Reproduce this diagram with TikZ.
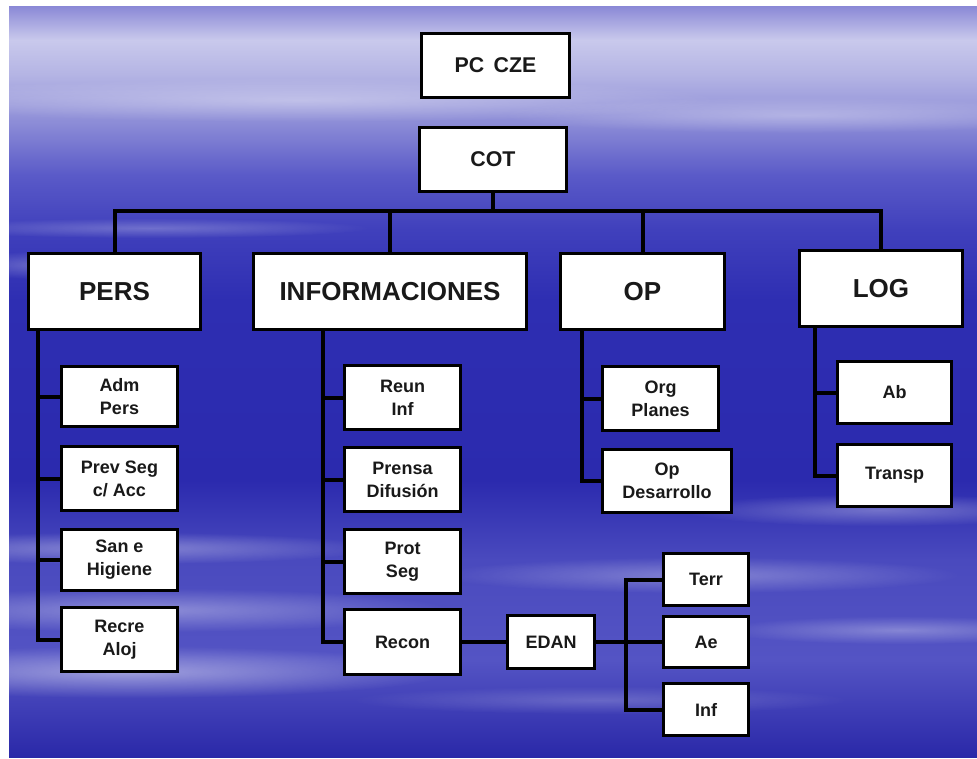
\documentclass[tikz,border=0pt]{standalone}
\usepackage{fontspec}
\setmainfont{Liberation Sans}
\usetikzlibrary{fadings}
\tikzfading[name=softell, inner color=transparent!0, outer color=transparent!100]
\definecolor{c0}{HTML}{8A88D6}
\definecolor{c1}{HTML}{C9C9EC}
\definecolor{c2}{HTML}{B4B4E4}
\definecolor{c3}{HTML}{8A8AD6}
\definecolor{c4}{HTML}{5A5AC8}
\definecolor{c5}{HTML}{4040BC}
\definecolor{c6}{HTML}{2E2EB2}
\definecolor{c7}{HTML}{2B2AAE}
\definecolor{c8}{HTML}{4A4ABE}
\definecolor{c9}{HTML}{5454C4}
\definecolor{c10}{HTML}{2A28A8}
\tikzset{
  box/.style={draw=black, line width=2.25pt, fill=white, align=center, inner sep=0pt, text=black!90},
  bigbox/.style={box, font=\bfseries\fontsize{19.5}{23}\selectfont, minimum height=57pt},
  midbox/.style={box, font=\bfseries\fontsize{16}{19}\selectfont, minimum width=110.5pt, minimum height=48pt},
  smallbox/.style={box, font=\bfseries\fontsize{13.5}{17.25}\selectfont, minimum width=87pt, minimum height=48pt},
  leafbox/.style={box, font=\bfseries\fontsize{13.5}{17.25}\selectfont, minimum width=63.75pt, minimum height=39pt},
  conn/.style={draw=black, line width=3pt},
  cloud/.style={white, path fading=softell}
}
\begin{document}
\begin{tikzpicture}[x=0.75pt,y=-0.75pt]
\useasboundingbox (0,0) rectangle (977,758);
% background sky
\shade[top color=c0, bottom color=c1] (9,6) rectangle (977,40);
\shade[top color=c1, bottom color=c2] (9,40) rectangle (977,75);
\shade[top color=c2, bottom color=c3] (9,75) rectangle (977,125);
\shade[top color=c3, bottom color=c4] (9,125) rectangle (977,175);
\shade[top color=c4, bottom color=c5] (9,175) rectangle (977,230);
\shade[top color=c5, bottom color=c6] (9,230) rectangle (977,300);
\shade[top color=c6, bottom color=c7] (9,300) rectangle (977,480);
\shade[top color=c7, bottom color=c8] (9,480) rectangle (977,560);
\shade[top color=c8, bottom color=c9] (9,560) rectangle (977,660);
\shade[top color=c9, bottom color=c10] (9,660) rectangle (977,757);
% cloud streaks
\begin{scope}
\clip (9,6) rectangle (977,757);
\fill[cloud, fill opacity=0.35] (300,100) ellipse (420 and 22);
\fill[cloud, fill opacity=0.3] (800,115) ellipse (300 and 18);
\fill[cloud, fill opacity=0.25] (150,228) ellipse (220 and 10);
\fill[cloud, fill opacity=0.25] (40,265) ellipse (80 and 14);
\fill[cloud, fill opacity=0.35] (120,548) ellipse (260 and 16);
\fill[cloud, fill opacity=0.35] (150,610) ellipse (300 and 22);
\fill[cloud, fill opacity=0.45] (130,672) ellipse (320 and 26);
\fill[cloud, fill opacity=0.3] (700,575) ellipse (260 and 18);
\fill[cloud, fill opacity=0.3] (880,510) ellipse (200 and 16);
\fill[cloud, fill opacity=0.3] (900,630) ellipse (180 and 14);
\fill[cloud, fill opacity=0.2] (600,700) ellipse (250 and 14);
\end{scope}
% top nodes
\node[midbox] (pc) at (495.5,65.5) {PC\, CZE};
\node[midbox] (cot) at (493,159.5) {COT};
\node[bigbox, minimum width=129pt] (pers) at (114.5,291.5) {PERS};
\node[bigbox, minimum width=204.75pt] (info) at (390,291.5) {INFORMACIONES};
\node[bigbox, minimum width=123pt] (op) at (642.5,291.5) {OP};
\node[bigbox, minimum width=122.25pt] (log) at (881,288.5) {LOG};
% PERS children
\node[smallbox, minimum height=45pt] (adm) at (119.5,396.5) {Adm\\Pers};
\node[smallbox] (prev) at (119.5,478.5) {Prev Seg\\c/ Acc};
\node[smallbox, minimum height=45.75pt] (san) at (119.5,560) {San e\\Higiene};
\node[smallbox] (recre) at (119.5,639.5) {Recre\\Aloj};
% INFO children
\node[smallbox] (reun) at (402.5,397.5) {Reun\\Inf};
\node[smallbox] (prensa) at (402.5,479.5) {Prensa\\Difusión};
\node[smallbox] (prot) at (402.5,561.5) {Prot\\Seg};
\node[smallbox, minimum height=48.75pt] (recon) at (402.5,642) {Recon};
% OP children
\node[smallbox] (org) at (660.5,398.5) {Org\\Planes};
\node[smallbox, minimum width=96.75pt, minimum height=47.25pt] (opdes) at (667,481) {Op\\Desarrollo};
% LOG children
\node[smallbox, minimum width=85.5pt, minimum height=46.5pt] (ab) at (894.5,392.5) {Ab};
\node[smallbox, minimum width=85.5pt, minimum height=46.5pt] (transp) at (894.5,475.5) {Transp};
% EDAN branch
\node[leafbox, minimum width=65.25pt, minimum height=39.75pt] (edan) at (551,642) {EDAN};
\node[leafbox] (terr) at (706,579.5) {Terr};
\node[leafbox, minimum height=38.25pt] (ae) at (706,642) {Ae};
\node[leafbox] (inf) at (706,709.5) {Inf};
% connectors
\coordinate (bus) at (493,211);
\draw[conn] (pers.north) -- (pers.north |- bus) -- (log.north |- bus) -- (log.north);
\draw[conn] (cot.south) -- (cot.south |- bus);
\draw[conn] (info.north) -- (info.north |- bus);
\draw[conn] (op.north) -- (op.north |- bus);
% PERS tree
\coordinate (pv) at ([xshift=8.25pt]pers.south west);
\draw[conn] (pv) |- (recre.west);
\draw[conn] (pv |- adm.west) -- (adm.west);
\draw[conn] (pv |- prev.west) -- (prev.west);
\draw[conn] (pv |- san.west) -- (san.west);
% INFO tree
\coordinate (iv) at ([xshift=53.25pt]info.south west);
\draw[conn] (iv) |- (recon.west);
\draw[conn] (iv |- reun.west) -- (reun.west);
\draw[conn] (iv |- prensa.west) -- (prensa.west);
\draw[conn] (iv |- prot.west) -- (prot.west);
% OP tree
\coordinate (ov) at ([xshift=17.25pt]op.south west);
\draw[conn] (ov) |- (opdes.west);
\draw[conn] (ov |- org.west) -- (org.west);
% LOG tree
\coordinate (lv) at ([xshift=12.75pt]log.south west);
\draw[conn] (lv) |- (transp.west);
\draw[conn] (lv |- ab.west) -- (ab.west);
% EDAN
\draw[conn] (recon.east) -- (edan.west);
\draw[conn] (edan.east) -- (ae.west);
\coordinate (fk) at (626,642);
\draw[conn] (terr.west) -| (fk |- inf.west) -- (inf.west);
\end{tikzpicture}
\end{document}
